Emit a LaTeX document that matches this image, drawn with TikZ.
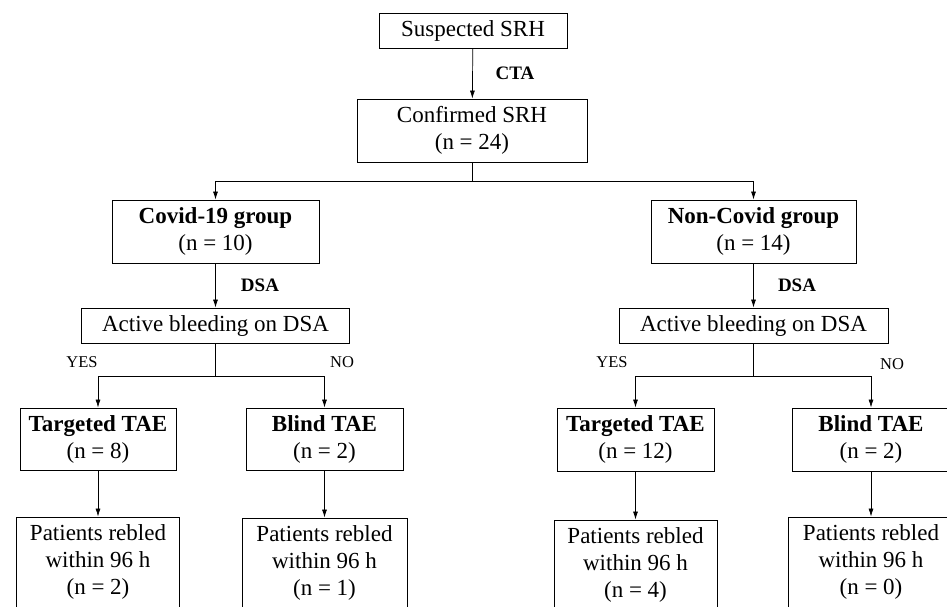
\documentclass[tikz,border=0pt]{standalone}
\usepackage{fontspec}
\setmainfont{Liberation Serif}
\usetikzlibrary{arrows.meta,positioning}
\newcommand{\boxfont}{\fontsize{23}{27}\selectfont}
\newcommand{\stepfont}{\fontsize{19}{21}\selectfont\bfseries}
\newcommand{\answerfont}{\fontsize{16.5}{19}\selectfont}

\begin{document}
\begin{tikzpicture}[x=1pt,y=-1pt]
    %\draw[help lines] (0,0) grid (947,606);
    \tikzset{flowbox/.style = {draw, line width=0.9pt, align=center, inner sep=1pt, font=\boxfont},
             flowarrow/.style = {line width=0.7pt, -{Latex[length=8pt,width=5pt]}},
             steplabel/.style = {font=\stepfont, inner sep=0pt},
             answer/.style = {font=\answerfont, inner sep=0pt}}
    \useasboundingbox (0,0) rectangle (947,606);
    \clip (0,0) rectangle (947,606);

    \node[flowbox, minimum width=188pt, minimum height=35pt] (suspected) at (473,30.5) {Suspected SRH};
    \node[flowbox, minimum width=230pt, minimum height=63pt] (confirmed) at (472,130.5) {Confirmed SRH\\(n = 24)};

    \node[flowbox, minimum width=207pt, minimum height=63pt] (covid) at (215.5,231.5) {\textbf{Covid-19 group}\\(n = 10)};
    \node[flowbox, minimum width=205pt, minimum height=63pt] (noncovid) at (753.5,231.5) {\textbf{Non-Covid group}\\(n = 14)};

    \node[flowbox, minimum width=268pt, minimum height=35pt] (activeL) at (215.5,325.5) {Active bleeding on DSA};
    \node[flowbox, minimum width=269pt, minimum height=35pt] (activeR) at (753.5,325.5) {Active bleeding on DSA};

    \node[flowbox, minimum width=156pt, minimum height=62pt] (targetedL) at (98,439) {\textbf{Targeted TAE}\\(n = 8)};
    \node[flowbox, minimum width=157pt, minimum height=62pt] (blindL) at (324.5,439) {\textbf{Blind TAE}\\(n = 2)};
    \node[flowbox, minimum width=157pt, minimum height=63pt] (targetedR) at (635.5,439.5) {\textbf{Targeted TAE}\\(n = 12)};
    \node[flowbox, minimum width=158pt, minimum height=63pt] (blindR) at (871,439.5) {\textbf{Blind TAE}\\(n = 2)};

    \node[flowbox, minimum width=163pt, minimum height=90pt] (rebledL1) at (98,562) {Patients rebled\\within 96 h\\(n = 2)};
    \node[flowbox, minimum width=165pt, minimum height=90pt] (rebledL2) at (324.5,563) {Patients rebled\\within 96 h\\(n = 1)};
    \node[flowbox, minimum width=163pt, minimum height=90pt] (rebledR1) at (635.5,565) {Patients rebled\\within 96 h\\(n = 4)};
    \node[flowbox, minimum width=165pt, minimum height=90pt] (rebledR2) at (871,562) {Patients rebled\\within 96 h\\(n = 0)};

    \draw[flowarrow] (suspected) -- (confirmed);
    \node[steplabel] (cta) at (515,73) {CTA};

    \draw[flowarrow] (confirmed.south) -- ++(0,19) -| (covid.north);
    \draw[flowarrow] (confirmed.south) -- ++(0,19) -| (noncovid.north);

    \draw[flowarrow] (covid) -- (activeL);
    \draw[flowarrow] (noncovid) -- (activeR);
    \node[steplabel] (dsaL) at (260,285) {DSA};
    \node[steplabel] (dsaR) at (797,285) {DSA};

    \draw[flowarrow] (activeL.south) -- ++(0,33) -| (targetedL.north);
    \draw[flowarrow] (activeL.south) -- ++(0,33) -| (blindL.north);
    \draw[flowarrow] (activeR.south) -- ++(0,33) -| (targetedR.north);
    \draw[flowarrow] (activeR.south) -- ++(0,33) -| (blindR.north);
    \node[answer] (yesL) at (82,362) {YES};
    \node[answer] (noL) at (342,362) {NO};
    \node[answer] (yesR) at (612,362) {YES};
    \node[answer] (noR) at (892,364) {NO};

    \draw[flowarrow] (targetedL) -- (rebledL1);
    \draw[flowarrow] (blindL) -- (rebledL2);
    \draw[flowarrow] (targetedR) -- (rebledR1);
    \draw[flowarrow] (blindR) -- (rebledR2);
\end{tikzpicture}
\end{document}
